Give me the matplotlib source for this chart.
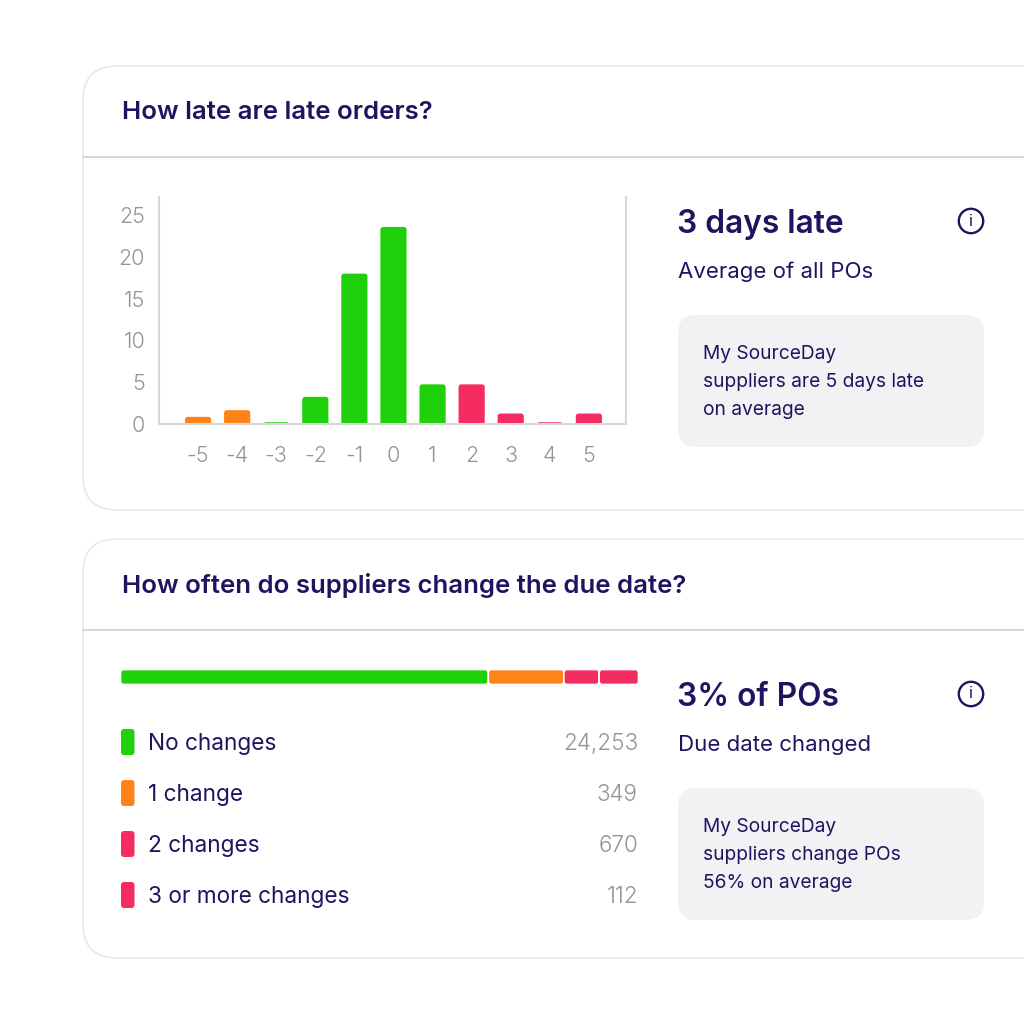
import matplotlib
matplotlib.use("Agg")
import matplotlib.pyplot as plt
from matplotlib.patches import FancyBboxPatch, Circle

# histogram: how late are late orders
days = [-5, -4, -3, -2, -1, 0, 1, 2, 3, 4, 5]
late_counts = [0.8, 1.6, 0.15, 3.2, 18, 23.6, 4.7, 4.7, 1.2, 0.15, 1.2]
late_groups = ["o", "o", "g", "g", "g", "g", "g", "p", "p", "p", "p"]
y_ticks = [0, 5, 10, 15, 20, 25]

# segmented bar: how often the due date changes
change_labels = ["No changes", "1 change", "2 changes", "3 or more changes"]
change_counts = ["24,253", "349", "670", "112"]
change_shares = [71.0, 14.6, 6.8, 7.6]
change_groups = ["g", "o", "p", "p"]

COLORS = {"g": "#1fd10a", "o": "#ff8418", "p": "#f52c5f"}
NAVY = "#1e1560"
GREY = "#949498"
LINE = "#d6d7db"
PANEL = "#f2f2f5"
FONT = "Inter"

plt.rcParams["font.family"] = [FONT, "DejaVu Sans"]

fig = plt.figure(figsize=(10.24, 10.24), dpi=100, facecolor="white")

# page layer in pixel coordinates
page = fig.add_axes([0, 0, 1, 1])
page.set_xlim(0, 1024)
page.set_ylim(1024, 0)
page.axis("off")


def rounded(ax, x, y, w, h, r, aspect=1, **kw):
    box = FancyBboxPatch((x, y), w, h, boxstyle=f"round,pad=0,rounding_size={r}",
                         mutation_aspect=aspect, **kw)
    ax.add_patch(box)
    return box


def card(top, bottom, divider, title):
    rounded(page, 83, top, 1000, bottom - top, 34, fc="white", ec="#e8e9ec", lw=1.2)
    page.plot([83, 1024], [divider, divider], color=LINE, lw=1.4)
    page.text(122, (top + divider) / 2 + 1, title, color=NAVY, fontsize=18.55,
              fontweight=600, va="center")


def side_panel(head_y, head, sub_y, sub, box_top, note):
    page.text(677, head_y + 2, head, color=NAVY, fontsize=22.8, fontweight=600, va="center")
    page.text(678, sub_y + 2, sub, color=NAVY, fontsize=16, va="center")
    rounded(page, 678, box_top, 306, 132, 18, fc=PANEL, ec="none")
    page.text(703, box_top + 67, note, color=NAVY, fontsize=13.8, va="center",
              linespacing=1.68)
    page.add_patch(Circle((971, head_y - 1), 12.2, fc="none", ec=NAVY, lw=1.7))
    page.text(971, head_y - 1, "i", color=NAVY, fontsize=12, ha="center", va="center")


card(66, 510, 157, "How late are late orders?")
card(539, 958, 630, "How often do suppliers change the due date?")
side_panel(222, "3 days late", 270, "Average of all POs", 315,
           "My SourceDay\nsuppliers are 5 days late\non average")
side_panel(695, "3% of POs", 743, "Due date changed", 788,
           "My SourceDay\nsuppliers change POs\n56% on average")

# histogram axes, pixel box 159..626 x 197..423.5
ax = fig.add_axes([159 / 1024, 1 - 423.5 / 1024, 467 / 1024, 226.5 / 1024])
ax.set_xlim(-6.0, 5.95)
ax.set_ylim(0, 27.2)
ax.patch.set_alpha(0)
# px per data unit differs on each axis, so rounding needs an aspect
bar_aspect = (27.2 / 226.5) / (11.95 / 467)
for d, v, g in zip(days, late_counts, late_groups):
    r = 0.07
    rounded(ax, d - 0.335, -0.6, 0.67, v + 0.6, r, aspect=bar_aspect, fc=COLORS[g], ec="none")
ax.spines["top"].set_visible(False)
for side in ["left", "right", "bottom"]:
    ax.spines[side].set_color(LINE)
    ax.spines[side].set_linewidth(1.5)
ax.set_xticks(days)
ax.set_xticklabels([str(d) for d in days])
ax.set_yticks(y_ticks)
ax.tick_params(length=0, labelsize=15.5, labelcolor=GREY)
ax.tick_params(axis="x", pad=16)
ax.tick_params(axis="y", pad=10)
for lab in ax.get_xticklabels() + ax.get_yticklabels():
    lab.set_fontweight(300)

# segmented bar axes, pixel box 121..638 x 670..684
seg = fig.add_axes([120.5 / 1024, 1 - 684.5 / 1024, 518 / 1024, 15 / 1024])
seg.set_xlim(0, sum(change_shares))
seg.set_ylim(0, 1)
seg.axis("off")
seg_aspect = (1 / 15) / (sum(change_shares) / 518)
left = 0
for share, g in zip(change_shares, change_groups):
    rounded(seg, left, 0, share, 1, 0.6, aspect=seg_aspect, fc=COLORS[g], ec="white", lw=1.2)
    left += share

# legend rows
for i, (label, count, g) in enumerate(zip(change_labels, change_counts, change_groups)):
    y = 742 + i * 51
    rounded(page, 121, y - 13, 13.5, 26, 3, fc=COLORS[g], ec="none")
    page.text(148, y + 2, label, color=NAVY, fontsize=16.3, va="center")
    page.text(638, y + 2, count, color=GREY, fontsize=16.2, ha="right", va="center", fontweight=300)

fig.savefig("out.png", dpi=100)
